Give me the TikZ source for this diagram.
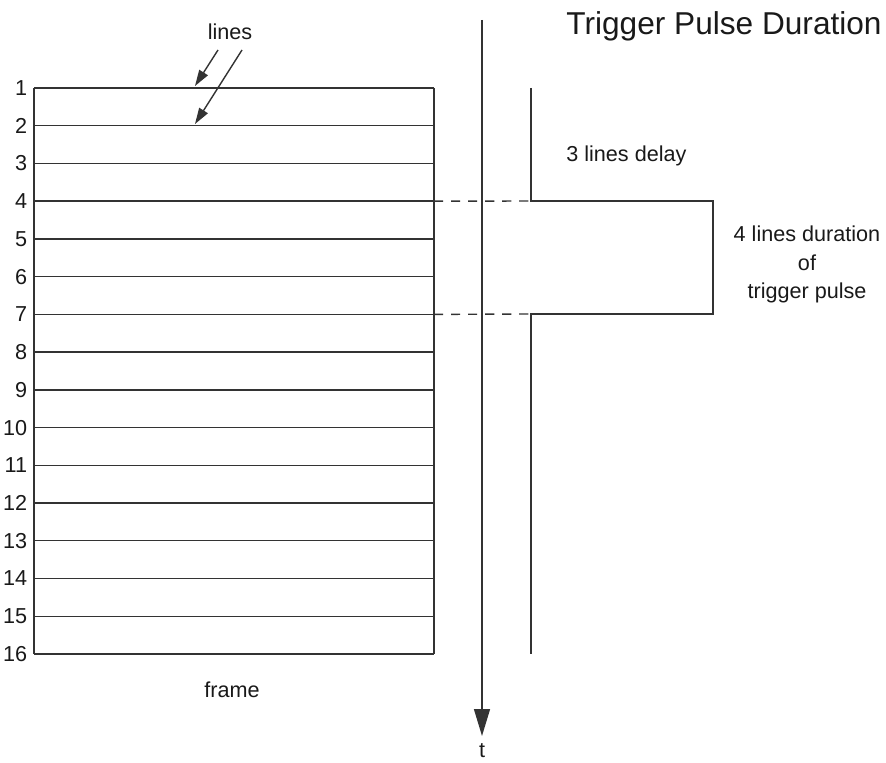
\documentclass[tikz,border=0pt]{standalone}
\usepackage{fontspec}
\setmainfont{Liberation Sans}
\usetikzlibrary{arrows.meta}
\begin{document}
\begin{tikzpicture}[x=0.02cm,y=-0.02cm,
  ln/.style={draw=black!80, line width=0.8pt},
  dsh/.style={draw=black!80, line width=0.8pt, dash pattern=on 5.2pt off 4.5pt},
  lbl/.style={font=\fontsize{12.3}{16.4}\selectfont, inner sep=0pt, text=black!90},
  ttl/.style={font=\fontsize{18}{21}\selectfont, inner sep=0pt, text=black!90},
  smallarr/.style={ln, -{Triangle[length=0.32cm,width=0.2cm]}},
  bigarr/.style={ln, -{Triangle[length=0.54cm,width=0.32cm]}}]
\useasboundingbox (0,0) rectangle (886,763);
% frame lines
\foreach \i in {1,...,16} {
  \pgfmathsetmacro\yy{88+(\i-1)*37.733}
  \coordinate (L\i) at (34,\yy);
  \coordinate (R\i) at (434,\yy);
  \draw[ln] (L\i) -- (R\i);
  \node[lbl, anchor=east] (n\i) at (27.5,\yy) {\i};
}
\draw[ln] (L1) -- (L16);
\draw[ln] (R1) -- (R16);
% lines label and arrows
\node[lbl, anchor=base] (lines) at (230,40) {lines};
\coordinate (a1s) at (218,50);
\coordinate (a1e) at (195,86);
\coordinate (a2s) at (242,50);
\coordinate (a2e) at (195,124);
\draw[smallarr] (a1s) -- (a1e);
\draw[smallarr] (a2s) -- (a2e);
\node[lbl, anchor=base] (frame) at (232,697) {frame};
% time axis
\coordinate (ttop) at (482,20);
\coordinate (tbot) at (482,736);
\draw[bigarr] (ttop) -- (tbot);
\node[lbl, anchor=base] (t) at (482,757) {t};
% trigger signal
\coordinate (s0) at (531,88);
\coordinate (s1) at (531,201);
\coordinate (s2) at (713,201);
\coordinate (s3) at (713,314);
\coordinate (s4) at (531,314);
\coordinate (s5) at (531,654);
\draw[ln] (s0) -- (s1) -- (s2) -- (s3) -- (s4) -- (s5);
\draw[dsh] (R4) -- (s1);
\draw[dsh] (R7) -- (s4);
% texts
\node[ttl, anchor=base east] (title) at (882,35) {Trigger Pulse Duration};
\node[lbl, anchor=base west] (delay) at (566,162) {3 lines delay};
\node[lbl, anchor=base, align=center] (dur) at (807,299) {4 lines duration\\of\\trigger pulse};
\end{tikzpicture}
\end{document}
